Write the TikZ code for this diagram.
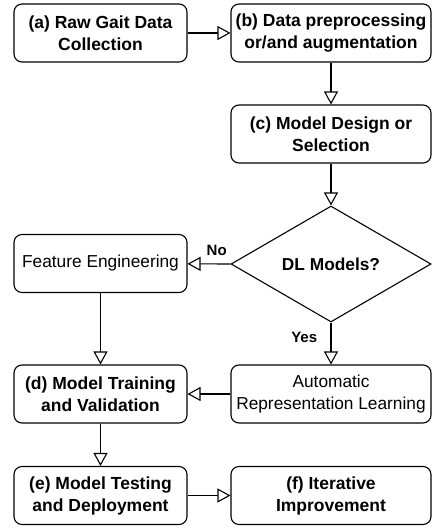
\documentclass[tikz,border=0pt]{standalone}
\usepackage{fontspec}
\setmainfont{Liberation Sans}
\usetikzlibrary{shapes.geometric,arrows.meta}
\begin{document}
\begin{tikzpicture}[x=1pt,y=-1pt,
  box/.style={draw,line width=1.1pt,rounded corners=8pt,minimum width=173pt,minimum height=58pt,align=center,font=\fontsize{17.5}{22}\selectfont\bfseries,inner sep=1pt},
  wbox/.style={box,minimum width=200pt},
  plain/.style={font=\fontsize{17.3}{22}\selectfont},
  arr/.style={draw,line width=1.1pt,-{Triangle[open,length=13pt,width=14pt]}},
  lab/.style={font=\fontsize{15}{18}\selectfont\bfseries}]
\useasboundingbox (0,0) rectangle (432,529);
\node[box] (a) at (100.5,33) {(a) Raw Gait Data\\Collection};
\node[wbox] (b) at (331,33) {(b) Data preprocessing\\or/and augmentation};
\node[wbox] (c) at (331,134) {(c) Model Design or\\Selection};
\node[diamond,draw,line width=1.1pt,minimum width=200pt,minimum height=116pt,inner sep=0pt,aspect=1.72,font=\fontsize{17.3}{22}\selectfont\bfseries] (dl) at (331,264) {DL Models?};
\node[box,plain] (fe) at (100.5,263.5) {Feature Engineering};
\node[wbox,plain] (ar) at (331,394) {Automatic\\Representation Learning};
\node[box] (d) at (100.5,394) {(d) Model Training\\and Validation};
\node[box] (e) at (100.5,495.5) {(e) Model Testing\\and Deployment};
\node[wbox] (f) at (331,495.5) {(f) Iterative\\Improvement};
\draw[arr] (a) -- (b);
\draw[arr] (b) -- (c);
\draw[arr] (c) -- (dl.north);
\draw[arr] (dl.west) -- node[lab,pos=0.32,yshift=14pt] {No} (fe);
\draw[arr] (dl.south) -- node[lab,left,pos=0.35,xshift=-10pt] {Yes} (ar);
\draw[arr] (fe) -- (d);
\draw[arr] (ar) -- (d);
\draw[arr] (d) -- (e);
\draw[arr] (e) -- (f);
\end{tikzpicture}
\end{document}
